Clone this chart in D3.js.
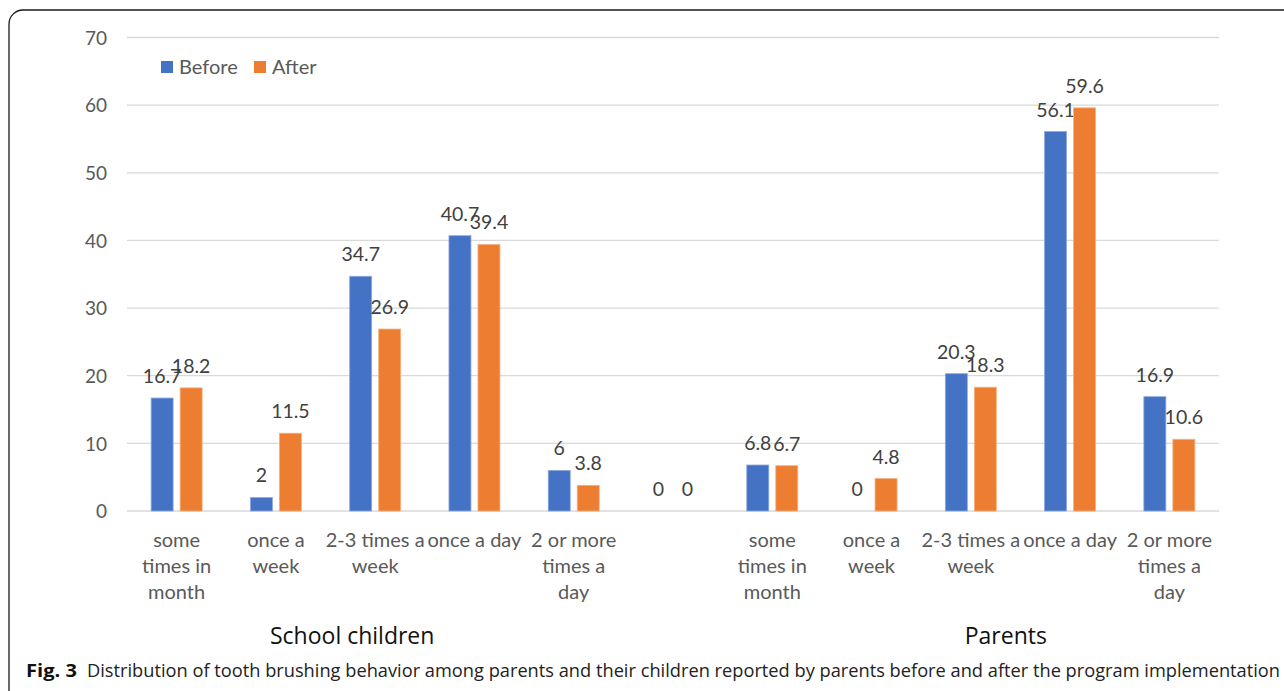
<!DOCTYPE html>
<html>
<head>
<meta charset="utf-8">
<script src="https://cdn.jsdelivr.net/npm/d3@7"></script>
<style>
  html, body { margin: 0; padding: 0; background: #fff; }
  svg { display: block; }
</style>
</head>
<body>
<svg id="chart" width="1284" height="691"></svg>
<script>
// ---- data ----
const categories = [
  "some\ntimes in\nmonth", "once a\nweek", "2-3 times a\nweek", "once a day", "2 or more\ntimes a\nday",
  "",
  "some\ntimes in\nmonth", "once a\nweek", "2-3 times a\nweek", "once a day", "2 or more\ntimes a\nday"
];
const before = [16.7, 2, 34.7, 40.7, 6, 0, 6.8, 0, 20.3, 56.1, 16.9];
const after  = [18.2, 11.5, 26.9, 39.4, 3.8, 0, 6.7, 4.8, 18.3, 59.6, 10.6];
const seriesNames = ["Before", "After"];
const groups = ["School children", "Parents"];
const yTicks = [0, 10, 20, 30, 40, 50, 60, 70];
const caption = "Distribution of tooth brushing behavior among parents and their children reported by parents before and after the program implementation";

const colors = ["#4472C4", "#ED7D31"];
const svg = d3.select("#chart");
const font = "Lato, 'Open Sans', sans-serif";

// frame
svg.append("rect").attr("x", 9).attr("y", 10).attr("width", 1400).attr("height", 720)
  .attr("rx", 14).attr("fill", "none").attr("stroke", "#1a1a1a").attr("stroke-width", 1.3);

const pLeft = 127, pRight = 1219, pTop = 37.5, pBottom = 511;
const x = d3.scaleBand().domain(d3.range(categories.length)).range([pLeft, pRight]).paddingInner(0).paddingOuter(0);
const y = d3.scaleLinear().domain([0, 70]).range([pBottom, pTop]);

// gridlines
svg.append("g").selectAll("line").data(yTicks).join("line")
  .attr("x1", pLeft).attr("x2", pRight)
  .attr("y1", d => y(d)).attr("y2", d => y(d))
  .attr("stroke", "#d9d9d9").attr("stroke-width", 1.3);

// y axis labels
const yAxis = d3.axisLeft(y).tickValues(yTicks).tickSize(0).tickPadding(0);
const yg = svg.append("g").attr("transform", `translate(${pLeft - 20},0)`).call(yAxis);
yg.select(".domain").remove();
yg.selectAll("text").attr("font-family", font).attr("font-size", 19).attr("fill", "#595959")
  .attr("dy", "0.35em");

// bars
const barW = 22, gap = 7;
const bw = x.bandwidth();
const barX = (i, s) => x(i) + bw / 2 + (s === 0 ? -gap / 2 - barW : gap / 2);

seriesNames.forEach((name, s) => {
  const vals = s === 0 ? before : after;
  svg.append("g").selectAll("rect").data(vals).join("rect")
    .attr("x", (d, i) => barX(i, s))
    .attr("width", barW)
    .attr("y", d => y(d))
    .attr("height", d => y(0) - y(d))
    .attr("fill", colors[s])
    .attr("stroke", d => d > 0 ? (s === 0 ? "#8fa9dc" : "#f5b082") : "none")
    .attr("stroke-width", 0.8);
  svg.append("g").selectAll("text").data(vals).join("text")
    .attr("x", (d, i) => barX(i, s) + barW / 2)
    .attr("y", d => y(d) - 15)
    .attr("text-anchor", "middle")
    .attr("font-family", font).attr("font-size", 19.5).attr("fill", "#404040")
    .text(d => d);
});

// category labels
const catG = svg.append("g");
categories.forEach((c, i) => {
  const t = catG.append("text")
    .attr("x", x(i) + bw / 2).attr("y", 547)
    .attr("text-anchor", "middle")
    .attr("font-family", font).attr("font-size", 20).attr("fill", "#595959");
  c.split("\n").forEach((line, k) => {
    t.append("tspan").attr("x", x(i) + bw / 2).attr("y", 547 + k * 26).text(line);
  });
});

// group labels
const groupCenters = [x(2) + bw / 2 - 23, x(8) + bw / 2 + 35];
svg.append("g").selectAll("text").data(groups).join("text")
  .attr("x", (d, i) => groupCenters[i]).attr("y", 644)
  .attr("text-anchor", "middle")
  .attr("font-family", "'Open Sans', sans-serif").attr("font-size", 23).attr("fill", "#111")
  .text(d => d);

// legend
const lg = svg.append("g");
const legX = [161, 254];
seriesNames.forEach((n, s) => {
  lg.append("rect").attr("x", legX[s]).attr("y", 61).attr("width", 12).attr("height", 12).attr("fill", colors[s]);
  lg.append("text").attr("x", legX[s] + 18).attr("y", 74)
    .attr("font-family", font).attr("font-size", 20).attr("fill", "#595959").text(n);
});

// caption
svg.append("text").attr("x", 26).attr("y", 677)
  .attr("font-family", "'Open Sans', sans-serif").attr("font-size", 18).attr("font-weight", "bold")
  .attr("fill", "#111").attr("textLength", 51).attr("lengthAdjust", "spacingAndGlyphs").text("Fig. 3");
svg.append("text").attr("x", 87).attr("y", 677)
  .attr("font-family", "'Open Sans', sans-serif").attr("font-size", 18).attr("fill", "#222")
  .attr("textLength", 1193).attr("lengthAdjust", "spacingAndGlyphs").text(caption);
</script>
</body>
</html>
